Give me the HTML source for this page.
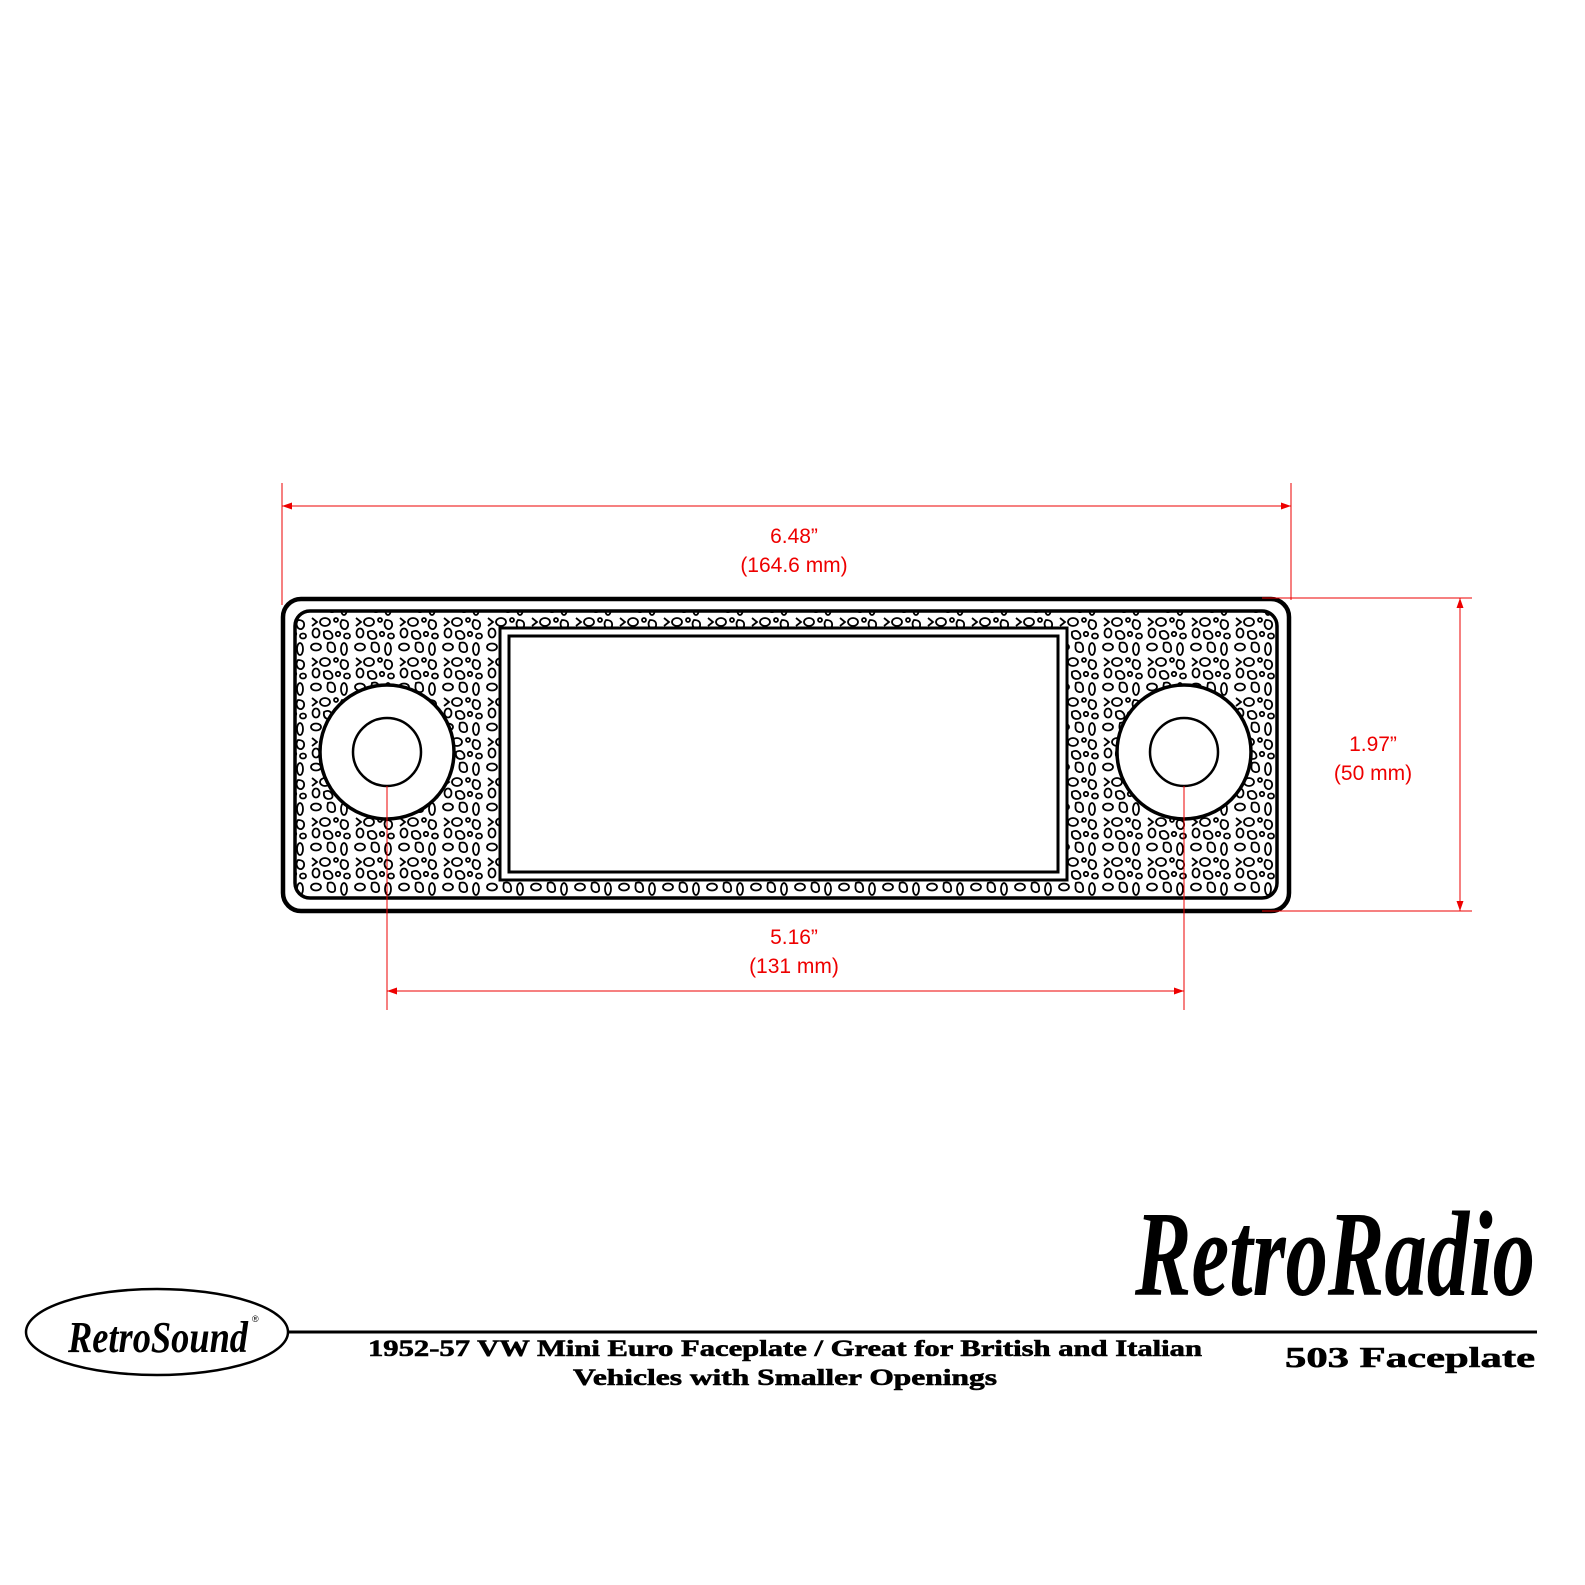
<!DOCTYPE html>
<html><head><meta charset="utf-8"><style>
html,body{margin:0;padding:0;background:#fff;overflow:hidden;width:1585px;height:1585px}
svg{display:block}
</style></head><body>
<svg width="1585" height="1585" viewBox="0 0 1585 1585" xmlns="http://www.w3.org/2000/svg">
<defs>
<pattern id="tex" width="44" height="40" patternUnits="userSpaceOnUse">
<g fill="none" stroke="#000" stroke-width="1.8">
<ellipse cx="8" cy="7" rx="5" ry="3.5"/>
<path d="M20 3 q6 -2 7 4 q1 6 -4 5 q-5 -1 -3 -9z"/>
<ellipse cx="36" cy="9" rx="3" ry="6"/>
<path d="M4 18 l5 4 -5 4"/>
<ellipse cx="17" cy="22" rx="5" ry="4"/>
<circle cx="28" cy="20" r="2"/>
<path d="M34 20 q7 0 6 6 q-2 5 -6 2 q-3 -4 0 -8z"/>
<ellipse cx="8" cy="33" rx="3.5" ry="4.5"/>
<path d="M16 32 q5 -3 8 2 q2 5 -4 5 q-5 -1 -4 -7z"/>
<circle cx="30" cy="34" r="2.2"/>
<ellipse cx="39" cy="36" rx="3" ry="2.5"/>
</g>
</pattern>
<marker id="ar" viewBox="0 0 10 10" refX="10" refY="5" markerWidth="10" markerHeight="10" orient="auto-start-reverse" markerUnits="userSpaceOnUse">
<path d="M0 1.5 L10 5 L0 8.5z" fill="#e00"/>
</marker>
</defs>
<rect width="1585" height="1585" fill="#fff"/>

<rect x="283" y="599" width="1006" height="312" rx="18" fill="#fff" stroke="#000" stroke-width="4.5"/>
<rect x="295" y="611" width="982" height="287" rx="15" fill="url(#tex)" stroke="#000" stroke-width="3.5"/>
<rect x="500" y="628" width="567" height="252" fill="#fff" stroke="#000" stroke-width="3"/>
<rect x="509" y="636" width="549" height="236" fill="#fff" stroke="#000" stroke-width="3"/>
<circle cx="387" cy="752" r="67" fill="#fff" stroke="#000" stroke-width="3.5"/>
<circle cx="387" cy="752" r="34" fill="#fff" stroke="#000" stroke-width="2.5"/>
<circle cx="1184" cy="752" r="67" fill="#fff" stroke="#000" stroke-width="3.5"/>
<circle cx="1184" cy="752" r="34" fill="#fff" stroke="#000" stroke-width="2.5"/>

<g stroke="#e00" stroke-width="1" fill="none">
<line x1="282" y1="483" x2="282" y2="605"/>
<line x1="1291" y1="483" x2="1291" y2="600"/>
<line x1="282" y1="506" x2="1291" y2="506" marker-start="url(#ar)" marker-end="url(#ar)"/>
<line x1="1262" y1="598" x2="1472" y2="598"/>
<line x1="1262" y1="911" x2="1472" y2="911"/>
<line x1="1460" y1="598" x2="1460" y2="911" marker-start="url(#ar)" marker-end="url(#ar)"/>
<line x1="387" y1="786" x2="387" y2="1010"/>
<line x1="1184" y1="786" x2="1184" y2="1010"/>
<line x1="387" y1="991" x2="1184" y2="991" marker-start="url(#ar)" marker-end="url(#ar)"/>
</g>
<g fill="#e00" font-family="Liberation Sans, sans-serif" font-size="21" text-anchor="middle">
<text x="794" y="543">6.48”</text>
<text x="794" y="572">(164.6 mm)</text>
<text x="1373" y="751">1.97”</text>
<text x="1373" y="780">(50 mm)</text>
<text x="794" y="944">5.16”</text>
<text x="794" y="973">(131 mm)</text>
</g>

<line x1="289" y1="1332" x2="1537" y2="1332" stroke="#000" stroke-width="3"/>
<ellipse cx="157" cy="1332" rx="131" ry="43" fill="#fff" stroke="#000" stroke-width="2.5"/>
<text x="68" y="1352" textLength="180" lengthAdjust="spacingAndGlyphs" font-family="Liberation Serif, serif" font-style="italic" font-weight="bold" font-size="44" fill="#000">RetroSound</text>
<text x="252" y="1322" font-family="Liberation Sans, sans-serif" font-size="9" fill="#000">®</text>
<text x="1135" y="1295" textLength="400" lengthAdjust="spacingAndGlyphs" font-family="Liberation Serif, serif" font-style="italic" font-weight="bold" font-size="122" fill="#000">RetroRadio</text>
<g font-family="Liberation Serif, serif" font-weight="bold" fill="#000">
<text x="368" y="1356" textLength="834" lengthAdjust="spacingAndGlyphs" font-size="23" stroke="#000" stroke-width="0.6">1952-57 VW Mini Euro Faceplate / Great for British and Italian</text>
<text x="573" y="1385" textLength="424" lengthAdjust="spacingAndGlyphs" font-size="23" stroke="#000" stroke-width="0.6">Vehicles with Smaller Openings</text>
<text x="1285" y="1367" textLength="250" lengthAdjust="spacingAndGlyphs" font-size="28" stroke="#000" stroke-width="0.6">503 Faceplate</text>
</g>
</svg>
</body></html>
